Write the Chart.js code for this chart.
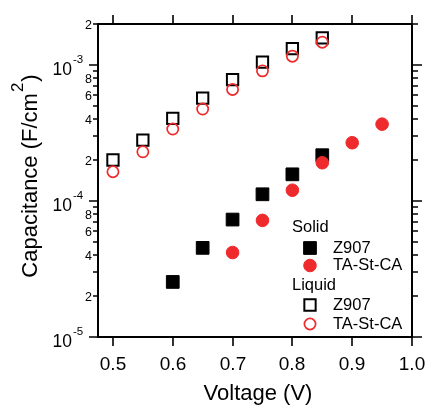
<!DOCTYPE html>
<html>
<head>
<meta charset="utf-8">
<script src="https://cdn.jsdelivr.net/npm/chart.js@4/dist/chart.umd.min.js"></script>
<style>
    body { margin: 0; background: #fff; }
    #wrap { width: 427px; height: 406px; position: relative; }
</style>
</head>
<body>
<div id="wrap"><canvas id="chart"></canvas></div>
<script>
// data
const liquidVoltage = [0.5, 0.55, 0.6, 0.65, 0.7, 0.75, 0.8, 0.85];
const liquidZ907 = [2.0e-4, 2.8e-4, 4.05e-4, 5.7e-4, 7.8e-4, 1.05e-3, 1.32e-3, 1.58e-3];
const liquidTA = [1.64e-4, 2.3e-4, 3.38e-4, 4.74e-4, 6.6e-4, 9.05e-4, 1.16e-3, 1.47e-3];

const solidZ907Voltage = [0.6, 0.65, 0.7, 0.75, 0.8, 0.85];
const solidZ907 = [2.54e-5, 4.52e-5, 7.3e-5, 1.12e-4, 1.57e-4, 2.17e-4];
const solidTAVoltage = [0.7, 0.75, 0.8, 0.85, 0.9, 0.95];
const solidTA = [4.18e-5, 7.2e-5, 1.2e-4, 1.91e-4, 2.68e-4, 3.67e-4];

const xTicks = [0.5, 0.6, 0.7, 0.8, 0.9, 1.0];
const yDecades = [-5, -4, -3];
const yMin = 1e-5, yMax = 2e-3;

const RED = '#ee2a2c';
const FONT = "'Liberation Sans', Arial, sans-serif";

function pts(xs, ys) {
    return xs.map((v, i) => ({ x: v, y: ys[i] }));
}

// frame, ticks, labels and legend
const decorPlugin = {
    id: 'decor',
    afterDraw(chart) {
        const ctx = chart.ctx;
        const { left, right, top, bottom } = chart.chartArea;
        const x = chart.scales.x, y = chart.scales.y;
        ctx.save();
        ctx.strokeStyle = '#000';
        ctx.fillStyle = '#000';
        ctx.lineWidth = 2;
        ctx.strokeRect(left, top, right - left, bottom - top);

        // x ticks top and bottom
        ctx.lineWidth = 1.6;
        ctx.font = `19px ${FONT}`;
        ctx.textAlign = 'center';
        ctx.textBaseline = 'alphabetic';
        xTicks.forEach(v => {
            const px = Math.round(x.getPixelForValue(v));
            ctx.beginPath();
            ctx.moveTo(px, bottom); ctx.lineTo(px, bottom + 9);
            ctx.moveTo(px, top); ctx.lineTo(px, top - 9);
            ctx.stroke();
            ctx.fillText(v.toFixed(1), px, bottom + 33);
        });

        // y ticks left and right
        yDecades.forEach(e => {
            for (let m = 1; m <= 9; m++) {
                const v = m * Math.pow(10, e);
                if (v > yMax * 1.0001) break;
                const py = Math.round(y.getPixelForValue(v));
                const major = m === 1;
                ctx.beginPath();
                ctx.moveTo(left, py); ctx.lineTo(left - (major ? 9 : 5), py);
                ctx.moveTo(right, py); ctx.lineTo(right + (major ? 10 : 6), py);
                ctx.stroke();
                if (major) {
                    ctx.textAlign = 'right';
                    ctx.font = `17.5px ${FONT}`;
                    ctx.fillText('10', left - 26, py + 10);
                    ctx.textAlign = 'left';
                    ctx.font = `11.5px ${FONT}`;
                    ctx.fillText('-' + (-e), left - 25, py - 2);
                } else if (m % 2 === 0) {
                    ctx.textAlign = 'right';
                    ctx.font = `12.5px ${FONT}`;
                    ctx.fillText(String(m), left - 6, py + 4.5);
                }
            }
        });

        // axis titles
        ctx.textAlign = 'center';
        ctx.font = `22px ${FONT}`;
        ctx.fillText('Voltage (V)', 258, 400);

        ctx.save();
        ctx.translate(37, 176);
        ctx.rotate(-Math.PI / 2);
        const t1 = 'Capacitance (F/cm';
        ctx.font = `22px ${FONT}`;
        const w1 = ctx.measureText(t1).width;
        ctx.font = `17px ${FONT}`;
        const w2 = ctx.measureText('2').width;
        ctx.font = `22px ${FONT}`;
        const w3 = ctx.measureText(')').width;
        const sx = -(w1 + w2 + w3 + 2) / 2;
        ctx.textAlign = 'left';
        ctx.fillText(t1, sx, 0);
        ctx.font = `17px ${FONT}`;
        ctx.fillText('2', sx + w1 + 1, -14);
        ctx.font = `22px ${FONT}`;
        ctx.fillText(')', sx + w1 + w2 + 2, 0);
        ctx.restore();

        // legend
        const lx = 292, mx = 310, tx = 333;
        const rows = [
            { head: 'Solid', y: 231.5 },
            { label: 'Z907', y: 253, my: 248, style: 'rect', fill: '#000', stroke: '#000', r: 9, bw: 1 },
            { label: 'TA-St-CA', y: 270, my: 265.5, style: 'circle', fill: RED, stroke: RED, r: 6.3, bw: 1 },
            { head: 'Liquid', y: 289.5 },
            { label: 'Z907', y: 310, my: 305, style: 'rect', fill: 'rgba(0,0,0,0)', stroke: '#000', r: 8, bw: 2 },
            { label: 'TA-St-CA', y: 328.5, my: 324, style: 'circle', fill: 'rgba(0,0,0,0)', stroke: RED, r: 5.6, bw: 1.7 }
        ];
        ctx.font = `16.5px ${FONT}`;
        ctx.textAlign = 'left';
        rows.forEach(row => {
            ctx.fillStyle = '#000';
            if (row.head) {
                ctx.fillText(row.head, lx, row.y);
                return;
            }
            ctx.fillText(row.label, tx, row.y);
            ctx.fillStyle = row.fill;
            ctx.strokeStyle = row.stroke;
            ctx.lineWidth = row.bw;
            Chart.helpers.drawPoint(ctx, { pointStyle: row.style, radius: row.r, rotation: 0, borderWidth: row.bw }, mx, row.my);
        });
        ctx.restore();
    }
};

new Chart(document.getElementById('chart'), {
    type: 'scatter',
    data: {
        datasets: [
            {
                label: 'Liquid Z907',
                data: pts(liquidVoltage, liquidZ907),
                pointStyle: 'rect',
                pointRadius: 8,
                borderWidth: 2,
                borderColor: '#000',
                backgroundColor: 'rgba(0,0,0,0)',
                order: 4
            },
            {
                label: 'Liquid TA-St-CA',
                data: pts(liquidVoltage, liquidTA),
                pointStyle: 'circle',
                pointRadius: 5.6,
                borderWidth: 1.7,
                borderColor: RED,
                backgroundColor: 'rgba(0,0,0,0)',
                order: 3
            },
            {
                label: 'Solid Z907',
                data: pts(solidZ907Voltage, solidZ907),
                pointStyle: 'rect',
                pointRadius: 9,
                borderWidth: 1,
                borderColor: '#000',
                backgroundColor: '#000',
                order: 2
            },
            {
                label: 'Solid TA-St-CA',
                data: pts(solidTAVoltage, solidTA),
                pointStyle: 'circle',
                pointRadius: 6.3,
                borderWidth: 1,
                borderColor: RED,
                backgroundColor: RED,
                order: 1
            }
        ]
    },
    options: {
        responsive: true,
        maintainAspectRatio: false,
        animation: false,
        events: [],
        layout: { padding: { left: 98, top: 24, right: 15, bottom: 69 } },
        plugins: {
            legend: { display: false },
            tooltip: { enabled: false }
        },
        scales: {
            x: { type: 'linear', min: 0.475, max: 1.0, display: false },
            y: { type: 'logarithmic', min: yMin, max: yMax, display: false }
        }
    },
    plugins: [decorPlugin]
});
</script>
</body>
</html>
